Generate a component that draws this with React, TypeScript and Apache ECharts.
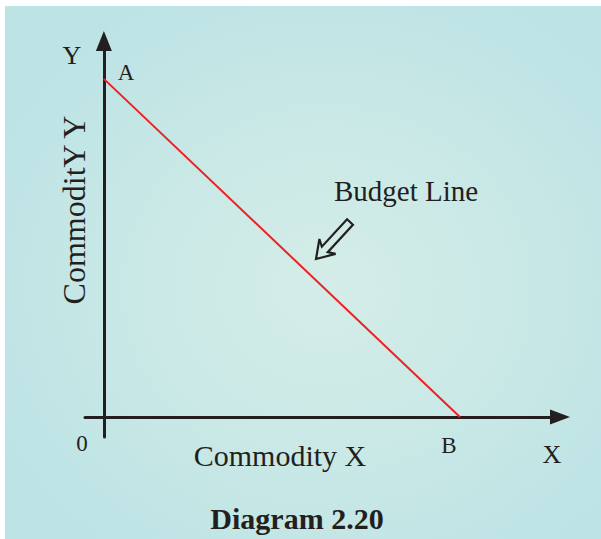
import React, { useEffect, useRef } from "react";
import * as echarts from "echarts";

// Budget line endpoints (A on Y axis, B on X axis)
const budgetX = [0, 10];
const budgetY = [10, 0];
// Axis extents (data units)
const xRange = [-0.53, 12.81];
const yRange = [-0.59, 11.12];

const pointLabels = ["A", "B", "0"];
const axisTitles = ["Commodity X", "CommoditY Y"];
const axisLetters = ["X", "Y"];
const annotation = "Budget Line";
const caption = "Diagram 2.20";

const FONT = "'Liberation Serif', 'DejaVu Serif', serif";
const INK = "#231f20";

function arrowPoints(tip: number[], tail: number[]) {
  const dx = tip[0] - tail[0];
  const dy = tip[1] - tail[1];
  const len = Math.sqrt(dx * dx + dy * dy);
  const c = dx / len;
  const s = dy / len;
  const local = [
    [0, 0],
    [-17, -11],
    [-13, -4],
    [-len, -4],
    [-len, 4],
    [-13, 4],
    [-17, 11],
  ];
  return local.map(([x, y]) => [tip[0] + x * c - y * s, tip[1] + x * s + y * c]);
}

export default function App() {
  const ref = useRef<HTMLDivElement>(null);
  useEffect(() => {
    document.body.style.margin = "0";
    const chart = echarts.init(ref.current!, undefined, { renderer: "svg" });
    const txt = (text: string, x: number, y: number, size: number, extra: any = {}) => ({
      type: "text",
      x,
      y,
      z: 10,
      style: {
        text,
        font: `${extra.weight || "normal"} ${size}px ${FONT}`,
        fill: INK,
        align: "center",
        verticalAlign: "middle",
      },
      ...(extra.rotation ? { rotation: extra.rotation } : {}),
    });
    chart.setOption({
      animation: false,
      backgroundColor: "#ffffff",
      grid: { left: 85, right: 41, top: 41, bottom: 102 },
      xAxis: {
        type: "value",
        min: xRange[0],
        max: xRange[1],
        axisLine: {
          onZero: true,
          lineStyle: { color: INK, width: 3 },
          symbol: ["none", "triangle"],
          symbolSize: [15, 20],
        },
        axisTick: { show: false },
        axisLabel: { show: false },
        splitLine: { show: false },
      },
      yAxis: {
        type: "value",
        min: yRange[0],
        max: yRange[1],
        axisLine: {
          show: true,
          onZero: true,
          lineStyle: { color: INK, width: 3 },
          symbol: ["none", "triangle"],
          symbolSize: [16, 20],
        },
        axisTick: { show: false },
        axisLabel: { show: false },
        splitLine: { show: false },
      },
      series: [
        {
          type: "line",
          data: budgetX.map((x, i) => [x, budgetY[i]]),
          symbol: "none",
          lineStyle: { color: "#ee2024", width: 2 },
          z: 3,
        },
      ],
      graphic: [
        {
          type: "rect",
          z: -10,
          silent: true,
          shape: { x: 5, y: 6, width: 596, height: 533 },
          style: {
            fill: new echarts.graphic.RadialGradient(0.54, 0.53, 0.62, [
              { offset: 0, color: "#d5ede8" },
              { offset: 0.55, color: "#c8e8e6" },
              { offset: 1, color: "#bde3e5" },
            ]),
          },
        },
        txt(axisLetters[1], 72, 55, 26),
        txt(pointLabels[0], 126, 72, 23),
        txt(pointLabels[2], 82, 443, 23),
        txt(pointLabels[1], 449, 445, 23),
        txt(axisLetters[0], 552, 454, 26),
        txt(axisTitles[0], 280, 455, 30),
        txt(axisTitles[1], 74, 210, 32, { rotation: Math.PI / 2 }),
        txt(annotation, 406, 191, 29),
        txt(caption, 297, 518, 30, { weight: "bold" }),
        {
          type: "polygon",
          z: 10,
          shape: { points: arrowPoints([316, 259], [350, 222]) },
          style: { fill: "none", stroke: INK, lineWidth: 2.2 },
        },
      ],
    });
    return () => chart.dispose();
  }, []);
  return <div ref={ref} style={{ width: 601, height: 539 }} />;
}
